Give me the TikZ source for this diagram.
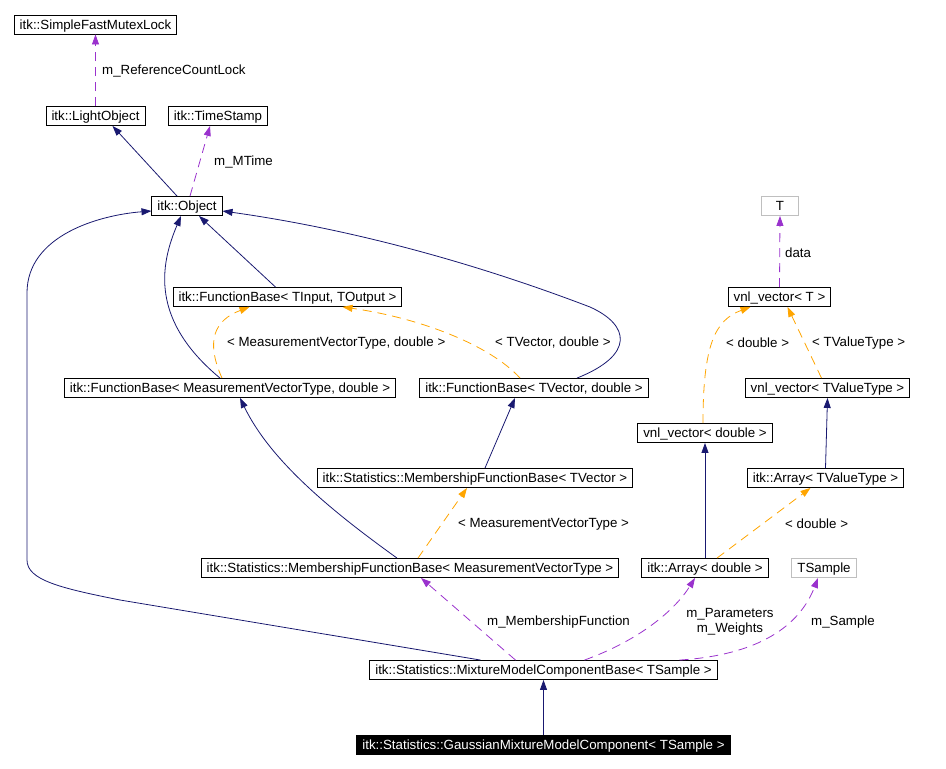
\documentclass[tikz,border=0pt]{standalone}
\usepackage{fontspec}
\setmainfont{Liberation Sans}
\usepackage{xcolor}
\usepackage{tikz}
\usetikzlibrary{arrows.meta}
\definecolor{cnavy}{HTML}{191970}
\definecolor{cpurple}{HTML}{9A32CD}
\definecolor{corange}{HTML}{FFA500}
\definecolor{cgrey}{HTML}{BFBFBF}
\tikzset{
 cls/.style={rectangle, draw=black, line width=0.9pt, fill=white,
 inner xsep=5.5pt, inner ysep=2pt, minimum height=19pt,
 text height=10pt, text depth=0.5pt,
 font=\fontsize{13.3}{15}\selectfont},
 ext/.style={cls, draw=cgrey},
 cur/.style={cls, fill=black, text=white},
 lbl/.style={anchor=west, inner sep=0pt, font=\fontsize{13.3}{15}\selectfont},
 inh/.style={-{Triangle[length=10pt,width=7pt]}, draw=cnavy, line width=0.8pt},
 mem/.style={-{Triangle[length=10pt,width=7pt]}, draw=cpurple, line width=0.8pt,
 dash pattern=on 9pt off 6pt},
 tmpl/.style={-{Triangle[length=10pt,width=7pt]}, draw=corange, line width=0.8pt,
 dash pattern=on 9pt off 6pt},
}

\begin{document}
\begin{tikzpicture}[x=1pt, y=-1pt]
 \useasboundingbox (0,0) rectangle (946,769);
 % classes
 \node[cls] (mutex) at (95.5,24.5) {itk::SimpleFastMutexLock};
 \node[cls] (light) at (95.5,116) {itk::LightObject};
 \node[cls] (stamp) at (218,116) {itk::TimeStamp};
 \node[cls] (obj) at (187,206) {itk::Object};
 \node[cls] (fbio) at (287.5,297) {itk::FunctionBase< TInput, TOutput >};
 \node[cls] (fbmvt) at (230,388) {itk::FunctionBase< MeasurementVectorType, double >};
 \node[cls] (fbtv) at (534,388) {itk::FunctionBase< TVector, double >};
 \node[ext, minimum width=37pt] (tp) at (780,206) {T};
 \node[cls] (vnlt) at (779.5,297) {vnl\_vector< T >};
 \node[cls] (vnltv) at (827.5,388) {vnl\_vector< TValueType >};
 \node[cls] (vnld) at (705,433) {vnl\_vector< double >};
 \node[cls] (arrtv) at (825.5,478) {itk::Array< TValueType >};
 \node[cls] (mfbtv) at (475,478) {itk::Statistics::MembershipFunctionBase< TVector >};
 \node[cls] (mfbmvt) at (410,568) {itk::Statistics::MembershipFunctionBase< MeasurementVectorType >};
 \node[cls] (arrd) at (705,568) {itk::Array< double >};
 \node[ext] (tsample) at (824,568) {TSample};
 \node[cls] (mixbase) at (543.5,670) {itk::Statistics::MixtureModelComponentBase< TSample >};
 \node[cur] (gmm) at (543.5,744.5) {itk::Statistics::GaussianMixtureModelComponent< TSample >};

 % edge labels
 \node[lbl] (lref) at (102,71) {m\_ReferenceCountLock};
 \node[lbl] (lmtime) at (214,162) {m\_MTime};
 \node[lbl] (lmvtd) at (227,343) {< MeasurementVectorType, double >};
 \node[lbl] (ltvd) at (495,343) {< TVector, double >};
 \node[lbl] (ldata) at (785,253) {data};
 \node[lbl] (ldbl) at (726,343) {< double >};
 \node[lbl] (ltvt) at (812,343) {< TValueType >};
 \node[lbl] (lmvt) at (458,524) {< MeasurementVectorType >};
 \node[lbl] (ldbl2) at (785,524) {< double >};
 \node[lbl] (lmemb) at (487,622) {m\_MembershipFunction};
 \node[lbl, anchor=center, align=center] (lparw) at (730,622) {m\_Parameters\\m\_Weights};
 \node[lbl] (lsamp) at (811,622) {m\_Sample};

 % inheritance
 \draw[inh] ([xshift=-10pt]obj.north) -- ([xshift=17pt]light.south);
 \draw[inh] ([xshift=-12pt]fbio.north) -- ([xshift=12pt]obj.south);
 \draw[inh] ([xshift=-10pt]fbmvt.north) .. controls (150,320) and (160,265) .. ([xshift=-6pt]obj.south);
 \draw[inh] ([xshift=43pt]fbtv.north) .. controls (635,355) and (630,325) .. (590,307)
 .. controls (467,260) and (344,228) .. ([yshift=-5pt]obj.east);
 \draw[inh] ([xshift=-63pt]mixbase.north) -- (120,600) .. controls (60,588) and (27,580) .. (27,560)
 -- (27,293) .. controls (27,235) and (100,215) .. ([yshift=-5pt]obj.west);
 \draw[inh] ([xshift=-13pt]mfbmvt.north) .. controls (330,510) and (270,460) .. ([xshift=10pt]fbmvt.south);
 \draw[inh] ([xshift=10pt]mfbtv.north) -- ([xshift=-19pt]fbtv.south);
 \draw[inh] (arrtv.north) -- (vnltv.south);
 \draw[inh] (arrd.north) -- (vnld.south);
 \draw[inh] (gmm.north) -- (mixbase.south);

 % members
 \draw[mem] (light.north) -- (mutex.south);
 \draw[mem] ([xshift=3pt]obj.north) -- ([xshift=-8pt]stamp.south);
 \draw[mem] (vnlt.north) -- (tp.south);
 \draw[mem] ([xshift=-28pt]mixbase.north) -- ([xshift=11pt]mfbmvt.south);
 \draw[mem] ([xshift=41pt]mixbase.north) .. controls (640,640) and (675,610) .. ([xshift=-10pt]arrd.south);
 \draw[mem] ([xshift=136pt]mixbase.north) .. controls (760,655) and (800,625) .. ([xshift=-6pt]tsample.south);

 % template instances
 \draw[tmpl] ([xshift=-8pt]fbmvt.north) .. controls (205,340) and (215,320) .. ([xshift=-38pt]fbio.south);
 \draw[tmpl] ([xshift=-14pt]fbtv.north) .. controls (490,345) and (420,318) .. ([xshift=55pt]fbio.south);
 \draw[tmpl] ([xshift=8pt]mfbmvt.north) -- ([xshift=-8pt]mfbtv.south);
 \draw[tmpl] ([xshift=-2pt]vnld.north) .. controls (703,345) and (715,320) .. ([xshift=-29pt]vnlt.south);
 \draw[tmpl] ([xshift=-6pt]vnltv.north) -- ([xshift=8pt]vnlt.south);
 \draw[tmpl] ([xshift=12pt]arrd.north) -- ([xshift=-15pt]arrtv.south);
\end{tikzpicture}
\end{document}
